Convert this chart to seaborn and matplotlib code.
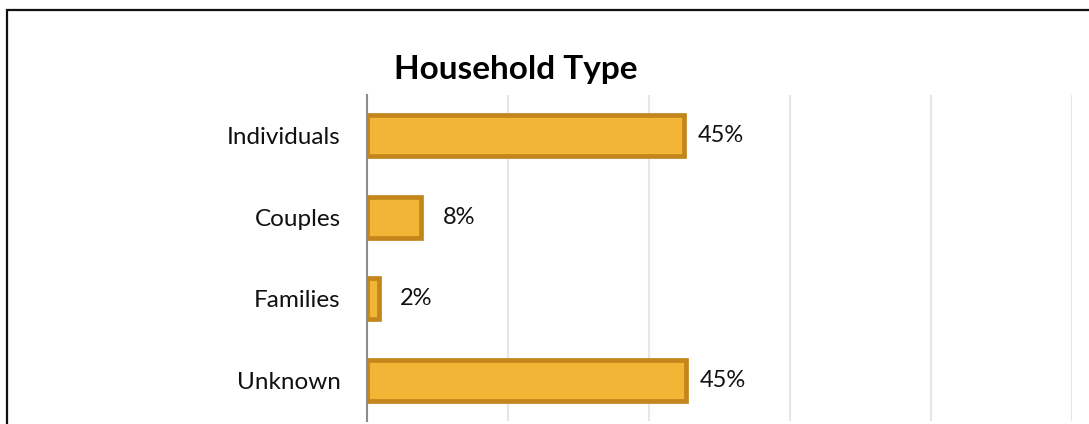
import matplotlib
matplotlib.use("Agg")
import matplotlib.pyplot as plt
import seaborn as sns
from matplotlib.patches import Rectangle

# Data (share of households)
categories = ["Individuals", "Couples", "Families", "Unknown"]
shares = [0.449, 0.077, 0.017, 0.452]
x_ticks = [0.0, 0.2, 0.4, 0.6, 0.8, 1.0]
title = "Household Type"

sns.set_theme(style="white")
plt.rcParams["font.family"] = ["Lato", "DejaVu Sans"]

fig = plt.figure(figsize=(10.89, 4.24), dpi=100)
ax = fig.add_axes([367 / 1089, 1 - 421 / 424, (1072 - 367) / 1089, (421 - 95) / 424])

sns.barplot(x=shares, y=categories, orient="h", ax=ax, color="#F3B536",
            saturation=1, width=0.5, edgecolor="#C4861C", linewidth=3.4)

# value labels, centred a little to the right of each bar end
for cont in ax.containers:
    texts = ax.bar_label(cont, labels=[f"{v:.0%}" for v in shares], padding=27,
                         fontsize=17, color="#111111")
    for t in texts:
        t.set_ha("center")

ax.set_xlim(0, 1.0)
ax.set_ylim(3.5, -0.5)
ax.set_xticks(x_ticks)
ax.set_xticklabels([])
ax.xaxis.grid(True, color="#E6E6E6", linewidth=1.5)
ax.set_axisbelow(True)
ax.set_xlabel("")
ax.set_ylabel("")
ax.tick_params(axis="y", length=0, pad=19, labelsize=17.5, labelcolor="#111111")
ax.tick_params(axis="x", length=0)

for side in ["top", "right", "bottom"]:
    ax.spines[side].set_visible(False)
ax.spines["left"].set_color("#8C8C8C")
ax.spines["left"].set_linewidth(1.5)

fig.text(516 / 1089, 1 - 70 / 424, title, ha="center", va="center",
         fontsize=24, fontweight="bold", color="#000000")

# chart border
fig.patches.append(Rectangle((7 / 1089, -0.05), 1.1, 1 - 10 / 424 + 0.05,
                             transform=fig.transFigure, fill=False,
                             edgecolor="#111111", linewidth=1.6))

fig.savefig("out.png", dpi=100)
